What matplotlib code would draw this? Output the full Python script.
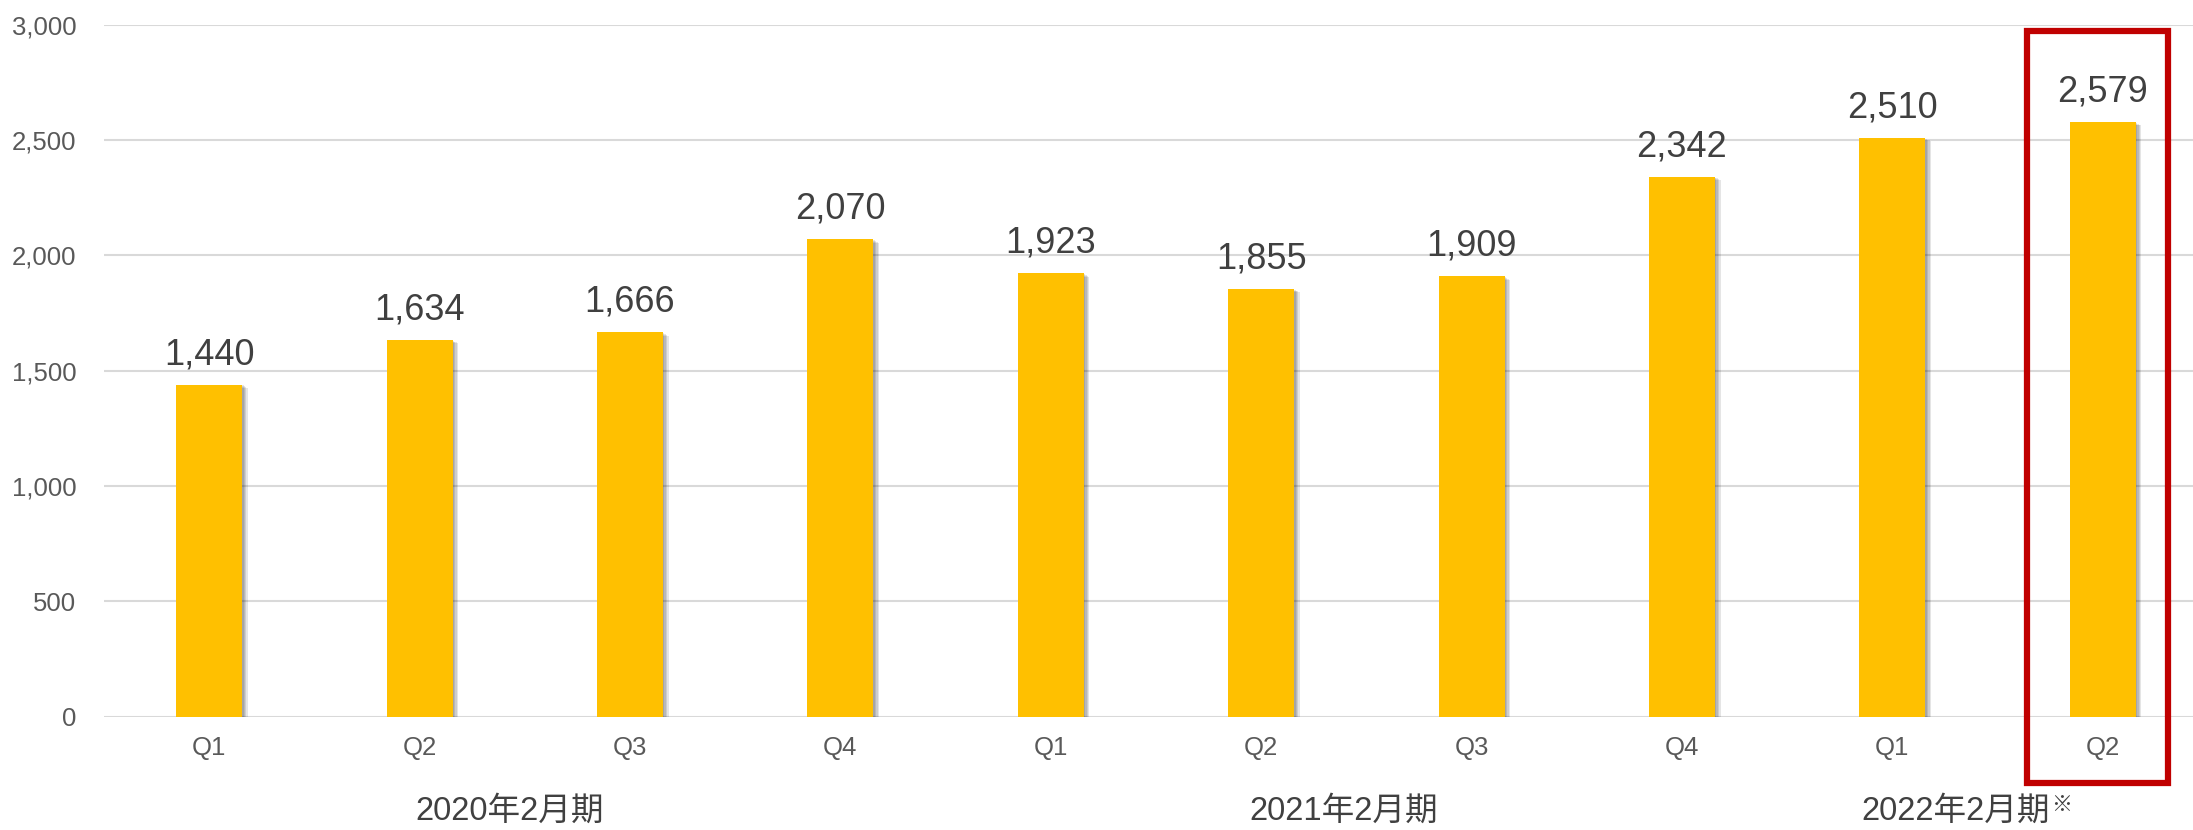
import matplotlib
matplotlib.use("Agg")
import matplotlib.pyplot as plt
import matplotlib.patheffects as pe
from matplotlib.patches import Rectangle

categories = ["Q1", "Q2", "Q3", "Q4", "Q1", "Q2", "Q3", "Q4", "Q1", "Q2"]
values = [1440, 1634, 1666, 2070, 1923, 1855, 1909, 2342, 2510, 2579]
groups = ["2020年2月期", "2021年2月期", "2022年2月期"]
group_pos = [1.43, 5.39, 8.30]
yticks = [0, 500, 1000, 1500, 2000, 2500, 3000]

FONT = ["Liberation Sans", "Noto Sans CJK JP", "DejaVu Sans"]
plt.rcParams['font.family'] = FONT

fig = plt.figure(figsize=(21.93, 8.30), dpi=100)
ax = fig.add_axes([104/2193, 113.5/830, 2104/2193, 691.5/830])

x = list(range(len(values)))
bars = ax.bar(x, values, width=0.314, color="#FFC000", zorder=3)
shadow = [pe.SimplePatchShadow(offset=(o, -o*0.6), shadow_rgbFace="black", alpha=0.10)
          for o in (1.0, 2.0, 3.0, 4.0)]
for b in bars:
    b.set_path_effects(shadow + [pe.Normal()])

for xi, v in zip(x, values):
    ax.annotate(f"{v:,}", (xi, v), xytext=(0, 9), textcoords="offset points",
                ha="center", va="bottom", fontsize=26, color="#404040")

ax.set_xlim(-0.5, len(values) - 0.5)
ax.set_ylim(0, 3000)
ax.set_yticks(yticks)
ax.set_yticklabels([f"{t:,}" for t in yticks])
ax.set_xticks(x)
ax.set_xticklabels(categories)
ax.tick_params(axis="y", length=0, pad=20, labelsize=18.5, labelcolor="#595959")
ax.tick_params(axis="x", length=0, pad=14, labelsize=18.5, labelcolor="#595959")
ax.grid(axis="y", color="#D9D9D9", linewidth=1.5, zorder=0)
for s in ax.spines.values():
    s.set_visible(False)

for g, gp in zip(groups, group_pos):
    ax.text(gp, -410, g, ha="center", va="center", fontsize=23.5, color="#404040",
            family=FONT)
ax.annotate("※", (1, 1), xycoords=ax.texts[-1], xytext=(1, 0), textcoords="offset points",
            ha="left", va="top", fontsize=15, color="#404040", family=FONT)

ax.add_patch(Rectangle((8.64, -288), 0.67, 2974 + 288, fill=False, edgecolor="#C00000",
                       linewidth=4.5, clip_on=False, zorder=5))

fig.savefig("out.png", dpi=100)
